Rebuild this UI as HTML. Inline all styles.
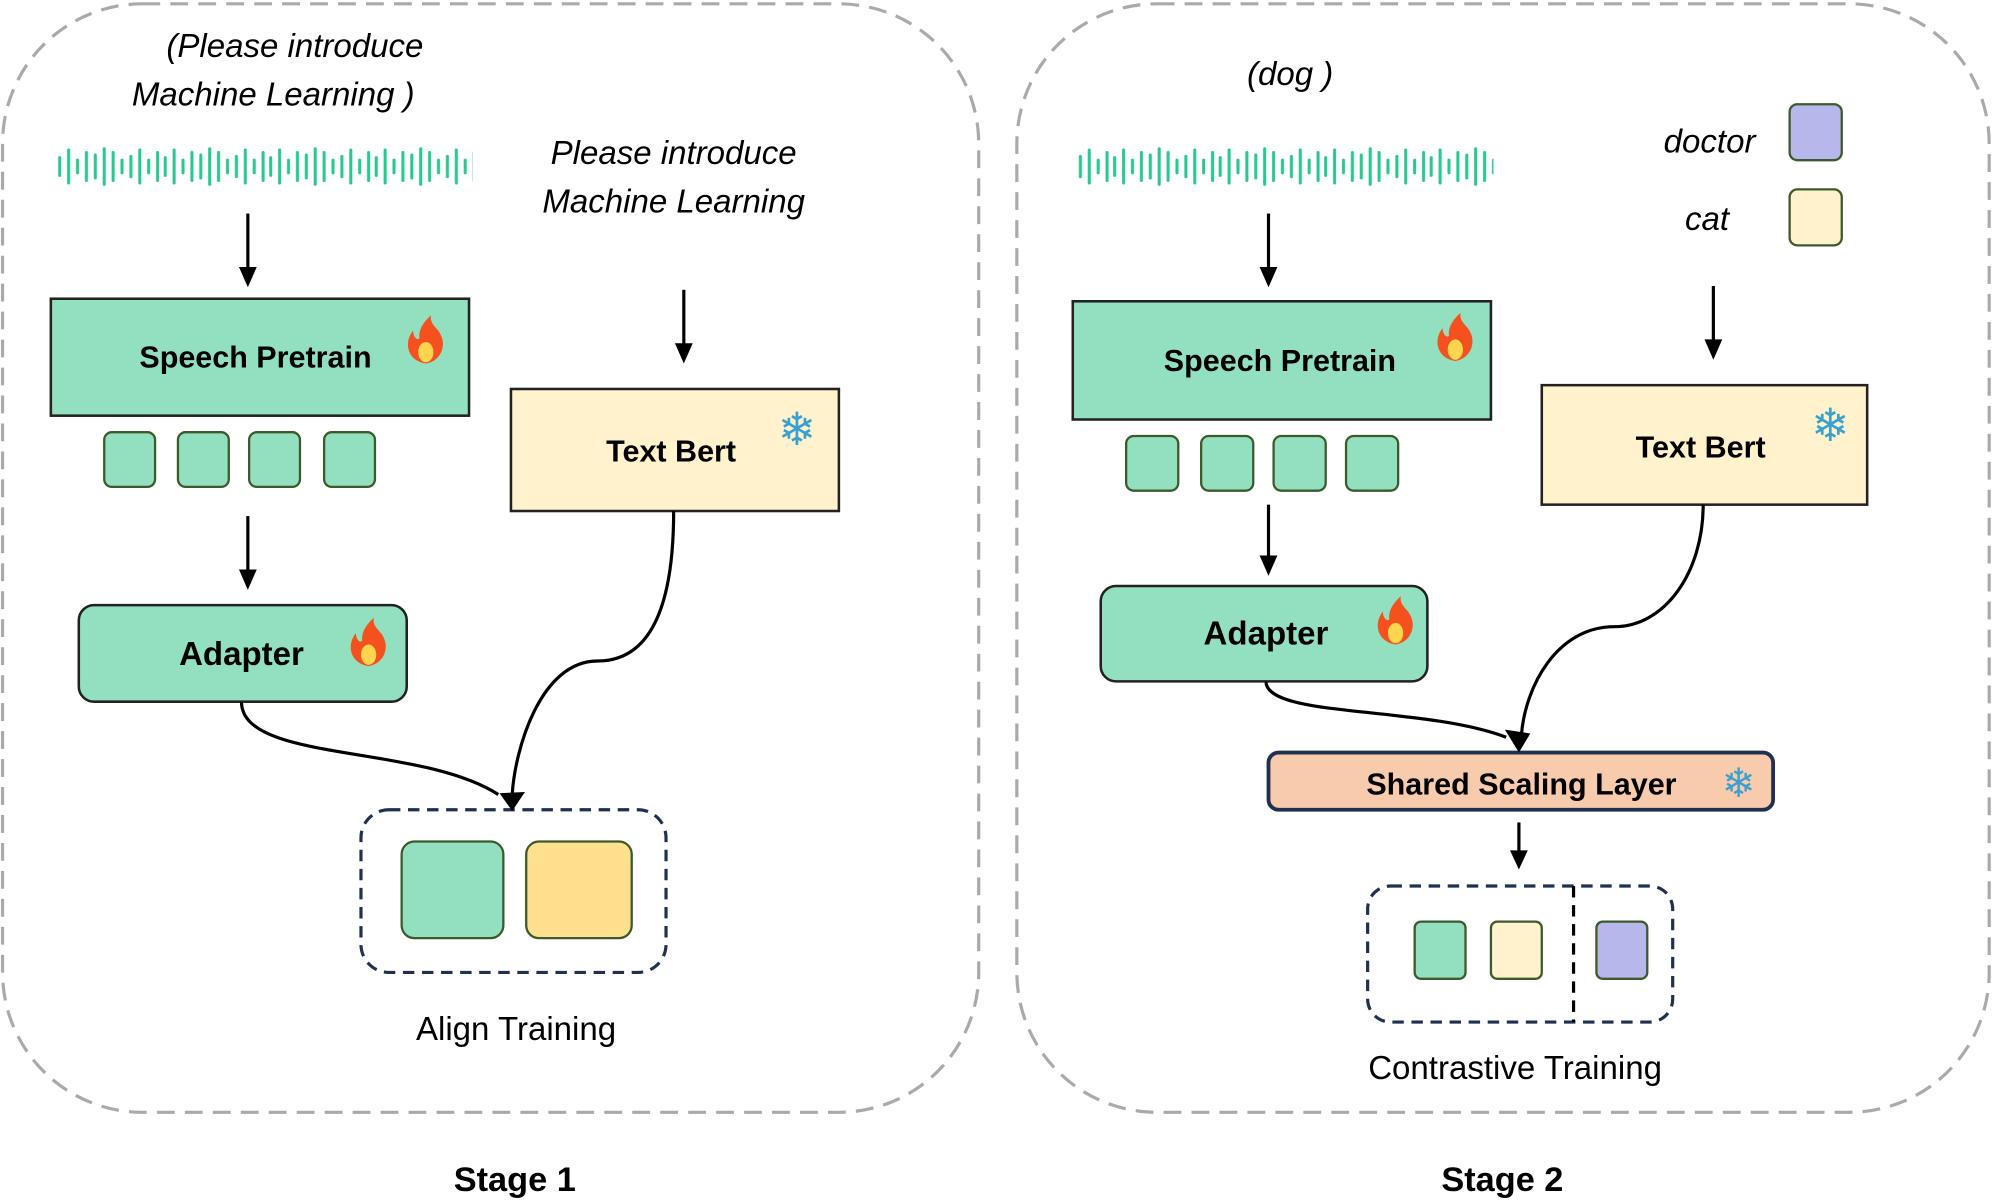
<!DOCTYPE html>
<html><head><meta charset="utf-8"><style>html,body{margin:0;padding:0;background:#fff}svg{display:block}</style></head>
<body>
<svg width="1993" height="1200" viewBox="0 0 1568 944" preserveAspectRatio="none" xmlns="http://www.w3.org/2000/svg" font-family="Liberation Sans, sans-serif">
<defs>
<pattern id="wave" x="45" y="0" width="83" height="944" patternUnits="userSpaceOnUse">
<g stroke="#27c98c" stroke-width="2.4" stroke-linecap="round">
<line x1="2" y1="124" x2="2" y2="138"/><line x1="9" y1="118" x2="9" y2="144"/><line x1="16" y1="126" x2="16" y2="136"/><line x1="23" y1="120" x2="23" y2="142"/><line x1="30" y1="122" x2="30" y2="140"/><line x1="37" y1="117" x2="37" y2="145"/><line x1="44" y1="120" x2="44" y2="142"/><line x1="51" y1="126" x2="51" y2="136"/><line x1="58" y1="123" x2="58" y2="139"/><line x1="65" y1="118" x2="65" y2="144"/><line x1="72" y1="126" x2="72" y2="136"/><line x1="79" y1="120" x2="79" y2="142"/>
</g></pattern>
</defs>
<g fill="none" stroke="#aaa" stroke-width="2.5" stroke-dasharray="14 8">
<rect x="2" y="3" width="768" height="872" rx="110"/>
<rect x="800" y="3" width="765" height="872" rx="110"/>
</g>
<g font-weight="bold" font-size="27" text-anchor="middle" fill="#000">
<text x="405" y="937">Stage 1</text><text x="1182" y="937">Stage 2</text>
</g>
<rect x="44" y="110" width="328" height="40" fill="url(#wave)"/>
<rect x="847" y="110" width="328" height="40" fill="url(#wave)"/>
<g font-style="italic" font-size="26" text-anchor="middle" fill="#000">
<text x="232" y="45">(Please introduce</text><text x="215" y="83">Machine Learning )</text>
<text x="530" y="129">Please introduce</text><text x="530" y="167">Machine Learning</text>
<text x="1015" y="67">(dog )</text>
<text x="1345" y="120">doctor</text><text x="1343" y="181">cat</text>
</g>
<g stroke="#000" stroke-width="2.5">
<line x1="195" y1="168" x2="195" y2="215"/><line x1="195" y1="406" x2="195" y2="453"/>
<line x1="538" y1="228" x2="538" y2="275"/>
<line x1="998" y1="168" x2="998" y2="215"/><line x1="998" y1="397" x2="998" y2="442"/>
<line x1="1348" y1="225" x2="1348" y2="272"/><line x1="1195" y1="647" x2="1195" y2="673"/>
</g>
<g fill="#000">
<path d="M188 210 L202 210 L195 226Z"/><path d="M188 448 L202 448 L195 464Z"/>
<path d="M531 270 L545 270 L538 286Z"/>
<path d="M991 210 L1005 210 L998 226Z"/><path d="M991 437 L1005 437 L998 453Z"/>
<path d="M1341 267 L1355 267 L1348 283Z"/><path d="M1188 669 L1202 669 L1195 684Z"/>
</g>
<g stroke="#222" stroke-width="2">
<rect x="40" y="235" width="329" height="92" fill="#92e0c0"/>
<rect x="402" y="306" width="258" height="96" fill="#fff2cc"/>
<rect x="62" y="476" width="258" height="76" rx="12" fill="#92e0c0"/>
<rect x="844" y="237" width="329" height="93" fill="#92e0c0"/>
<rect x="1213" y="303" width="256" height="94" fill="#fff2cc"/>
<rect x="866" y="461" width="257" height="75" rx="12" fill="#92e0c0"/>
</g>
<g stroke="#3d5a2b" stroke-width="1.8" fill="#92e0c0">
<rect x="82" y="340" width="40" height="43" rx="6"/><rect x="140" y="340" width="40" height="43" rx="6"/><rect x="196" y="340" width="40" height="43" rx="6"/><rect x="255" y="340" width="40" height="43" rx="6"/>
<rect x="886" y="343" width="41" height="43" rx="6"/><rect x="945" y="343" width="41" height="43" rx="6"/><rect x="1002" y="343" width="41" height="43" rx="6"/><rect x="1059" y="343" width="41" height="43" rx="6"/>
<rect x="316" y="662" width="80" height="76" rx="10"/>
<rect x="414" y="662" width="83" height="76" rx="10" fill="#ffe08f"/>
<rect x="1113" y="725" width="40" height="45" rx="5"/>
<rect x="1173" y="725" width="40" height="45" rx="5" fill="#fff2cc"/>
<rect x="1256" y="725" width="40" height="45" rx="5" fill="#b7b7ec"/>
<rect x="1408" y="82" width="41" height="44" rx="6" fill="#b7b7ec"/>
<rect x="1408" y="149" width="41" height="44" rx="6" fill="#fff2cc"/>
</g>
<rect x="998" y="592" width="397" height="45" rx="8" fill="#f8cbad" stroke="#1f3050" stroke-width="3"/>
<g fill="none" stroke="#1f3050" stroke-width="2.5" stroke-dasharray="9 6">
<rect x="284" y="637" width="240" height="128" rx="22"/>
<rect x="1076" y="697" width="240" height="107" rx="18"/>
</g>
<line x1="1238" y1="697" x2="1238" y2="804" stroke="#000" stroke-width="2.5" stroke-dasharray="9 6"/>
<g font-weight="bold" font-size="24" text-anchor="middle" fill="#000">
<text x="201" y="289">Speech Pretrain</text><text x="528" y="363">Text Bert</text><text x="190" y="523" font-size="26">Adapter</text>
<text x="1007" y="292">Speech Pretrain</text><text x="1338" y="360">Text Bert</text><text x="996" y="507" font-size="26">Adapter</text>
<text x="1197" y="625">Shared Scaling Layer</text>
</g>
<g font-size="26" text-anchor="middle" fill="#000">
<text x="406" y="818">Align Training</text><text x="1192" y="849">Contrastive Training</text>
</g>
<g fill="none" stroke="#000" stroke-width="2.5">
<path d="M530 402 C530 470 515 520 470 520 C425 520 405 590 403 625"/>
<path d="M190 552 C190 600 330 585 392 625"/>
<path d="M1340 397 C1340 450 1310 493 1270 493 C1225 493 1200 540 1197 578"/>
<path d="M996 536 C996 565 1120 555 1185 580"/>
</g>
<g fill="#000">
<path d="M393 624 L413 623 L403 638 Z"/><path d="M1184 574 L1204 577 L1195 592 Z"/>
</g>
<g>
<path d="M0 18 C-14 16 -18 2 -10 -8 C-10 -2 -6 0 -5 -2 C-6 -10 0 -16 4 -20 C3 -12 10 -10 12 -4 C16 4 12 16 0 18Z" fill="#f4511e" transform="translate(335,268)"/>
<ellipse cx="335" cy="277" rx="6" ry="8" fill="#ffd54f"/>
<path d="M0 18 C-14 16 -18 2 -10 -8 C-10 -2 -6 0 -5 -2 C-6 -10 0 -16 4 -20 C3 -12 10 -10 12 -4 C16 4 12 16 0 18Z" fill="#f4511e" transform="translate(290,506)"/>
<ellipse cx="290" cy="515" rx="6" ry="8" fill="#ffd54f"/>
<path d="M0 18 C-14 16 -18 2 -10 -8 C-10 -2 -6 0 -5 -2 C-6 -10 0 -16 4 -20 C3 -12 10 -10 12 -4 C16 4 12 16 0 18Z" fill="#f4511e" transform="translate(1145,266)"/>
<ellipse cx="1145" cy="275" rx="6" ry="8" fill="#ffd54f"/>
<path d="M0 18 C-14 16 -18 2 -10 -8 C-10 -2 -6 0 -5 -2 C-6 -10 0 -16 4 -20 C3 -12 10 -10 12 -4 C16 4 12 16 0 18Z" fill="#f4511e" transform="translate(1098,489)"/>
<ellipse cx="1098" cy="498" rx="6" ry="8" fill="#ffd54f"/>
</g>
<g font-family="DejaVu Sans, sans-serif" font-size="36" fill="#3aa0d0" text-anchor="middle">
<text x="627" y="350">❄</text><text x="1440" y="347">❄</text><text x="1368" y="627" font-size="32">❄</text>
</g>
</svg>
</body></html>
